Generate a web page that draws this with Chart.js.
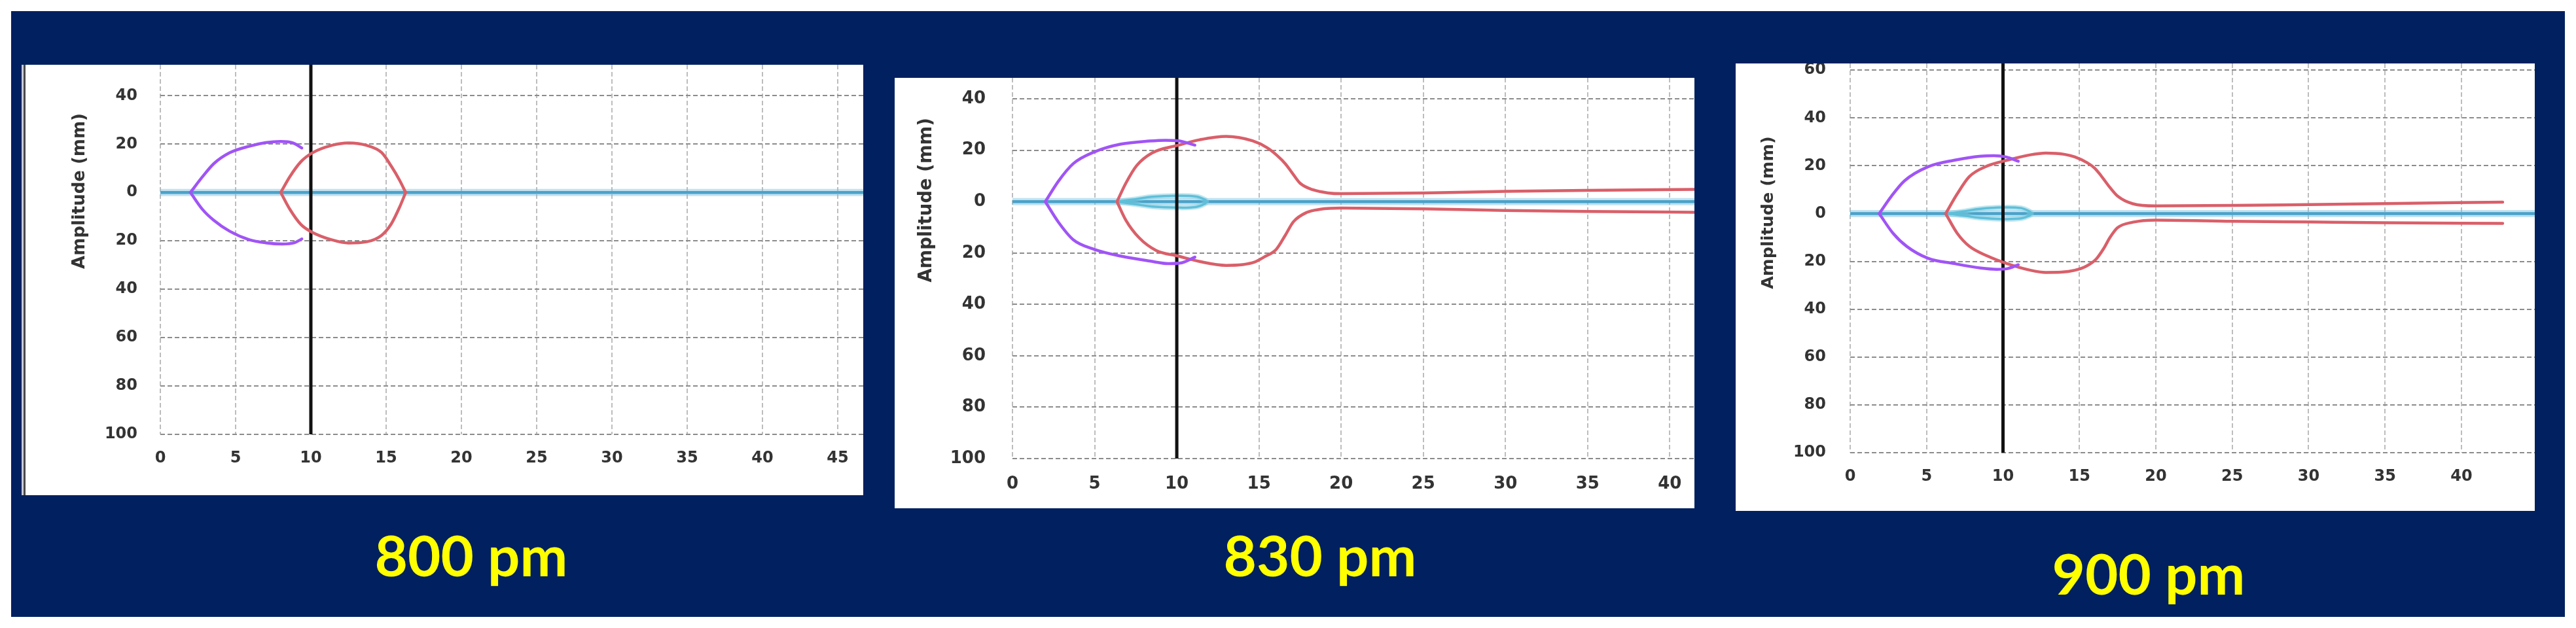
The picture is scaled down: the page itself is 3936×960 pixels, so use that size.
<!DOCTYPE html>
<html>
<head>
<meta charset="utf-8">
<script src="https://cdn.jsdelivr.net/npm/chart.js@4.4.1/dist/chart.umd.min.js"></script>
<style>
html,body{margin:0;padding:0;background:#ffffff;width:3936px;height:960px;overflow:hidden;}
#navy{position:absolute;left:17px;top:17px;width:3902px;height:926px;background:#002060;}
.panel{position:absolute;background:#ffffff;}
.panel canvas{position:absolute;left:0;top:0;}
.lbl{position:absolute;width:600px;text-align:center;font-family:Lato,"DejaVu Sans",sans-serif;font-weight:700;color:#ffff00;line-height:1.2;white-space:nowrap;}
#edge1{position:absolute;left:36px;top:99px;width:3px;height:658px;background:#4a4a4a;}
#edge1b{position:absolute;left:33px;top:99px;width:3px;height:658px;background:#c9cdd8;}
</style>
</head>
<body>
<div id="navy"></div>
<div class="panel" id="p1" style="left:33px;top:99px;width:1286px;height:658px"><canvas id="c1"></canvas></div>
<div class="panel" id="p2" style="left:1367px;top:119px;width:1222px;height:658px"><canvas id="c2"></canvas></div>
<div class="panel" id="p3" style="left:2652px;top:97px;width:1221px;height:684px"><canvas id="c3"></canvas></div>
<div id="edge1b"></div><div id="edge1"></div>
<div class="lbl" id="l1" style="left:420px;top:796px;font-size:87px"></div>
<div class="lbl" id="l2" style="left:1717px;top:796px;font-size:87px"></div>
<div class="lbl" id="l3" style="left:2983px;top:824px;font-size:87px"></div>
<script>
// ---------- labels / ticks ----------
const panelLabels = ['800 pm', '830 pm', '900 pm'];
const axisTitle = 'Amplitude (mm)';
const xTicks800 = [0, 5, 10, 15, 20, 25, 30, 35, 40, 45];
const xTicks830 = [0, 5, 10, 15, 20, 25, 30, 35, 40];
const xTicks900 = [0, 5, 10, 15, 20, 25, 30, 35, 40];
const yTicks = [-100, -80, -60, -40, -20, 0, 20, 40];
const yTickLabels = ['100', '80', '60', '40', '20', '0', '20', '40'];
const yTicks900 = [-100, -80, -60, -40, -20, 0, 20, 40, 60];
const yTickLabels900 = ['100', '80', '60', '40', '20', '0', '20', '40', '60'];
const markerX = 10;

// ---------- 800 pm ----------
const baseline800 = [[0, 0], [46.7, 0]];
const violetUpper800 = [[2.0,0],[2.8,6.5],[3.55,11.9],[4.6,16.4],[5.9,19.1],[7.0,20.6],[8.0,21.1],[8.8,20.5],[9.4,18.4]];
const violetLower800 = [[2.0,0],[2.8,-7.0],[3.55,-11.5],[4.6,-16.0],[5.9,-19.5],[7.0,-20.8],[8.1,-21.3],[8.9,-20.8],[9.4,-19.2]];
const redUpper800 = [[8.0,0],[8.6,6.5],[9.35,12.8],[10.1,16.4],[11.4,19.5],[12.5,20.5],[13.7,19.5],[14.7,16.5],[15.35,10.8],[15.9,5.0],[16.3,0]];
const redLower800 = [[8.0,0],[8.6,-6.9],[9.35,-13.3],[10.1,-16.5],[11.4,-19.6],[12.5,-20.9],[13.7,-20.4],[14.7,-17.7],[15.35,-12.9],[15.9,-6.0],[16.3,0]];

// ---------- 830 pm ----------
const baseline830 = [[0, 0], [41.5, 0]];
const violetUpper830 = [[2.0,0],[2.8,8.0],[3.7,14.8],[5.0,19.4],[6.6,22.4],[8.35,23.6],[9.3,23.9],[10.1,23.7],[11.1,22.0]];
const violetLower830 = [[2.0,0],[2.8,-8.0],[3.7,-14.8],[5.0,-18.6],[6.6,-21.2],[8.35,-23.1],[9.5,-24.1],[10.3,-23.8],[11.1,-21.6]];
const redUpper830 = [[6.36,0],[6.9,7.2],[7.55,14.0],[8.5,19.0],[10.1,22.0],[11.4,24.1],[13.0,25.4],[14.6,23.7],[15.5,21.0],[16.1,18.0],[16.6,14.8],[17.0,11.4],[17.5,7.2],[18.3,4.6],[19.2,3.4],[20,3.1],[25,3.4],[30,4.0],[35,4.4],[41.5,4.8]];
const redLower830 = [[6.36,0],[6.9,-7.2],[7.7,-14.0],[8.75,-19.0],[10.1,-21.2],[11.4,-23.3],[13.0,-24.8],[14.0,-24.5],[14.7,-23.6],[15.3,-21.6],[16.06,-18.5],[16.6,-13.1],[17.1,-7.8],[17.9,-4.2],[18.7,-3.0],[20,-2.5],[25,-2.8],[30,-3.4],[35,-3.8],[41.5,-4.1]];
const cyanLoop830 = [[6.4,0],[7.5,1.0],[8.5,1.9],[10,2.3],[11.2,2.0],[11.7,0.8],[11.8,0],[11.7,-0.8],[11.2,-2.0],[10,-2.3],[8.5,-1.9],[7.5,-1.0],[6.4,0]];

// ---------- 900 pm ----------
const baseline900 = [[0, 0], [44.8, 0]];
const violetUpper900 = [[1.9,0],[2.7,7.3],[3.55,13.7],[5.1,19.6],[6.8,22.3],[8.55,24.0],[9.4,24.2],[10.2,23.7],[11.0,21.9]];
const violetLower900 = [[1.9,0],[2.8,-8.2],[3.7,-13.7],[5.1,-18.7],[6.8,-20.9],[8.55,-22.8],[9.6,-23.3],[10.3,-23.0],[11.0,-21.4]];
const redUpper900 = [[6.25,0],[7.0,8.2],[7.8,15.5],[9.0,20.0],[10.25,22.3],[11.8,24.6],[12.8,25.3],[14.0,24.8],[14.7,23.7],[15.5,21.3],[16.0,19.0],[16.4,16.0],[17.0,10.9],[17.5,7.3],[18.5,4.1],[20,3.2],[25,3.4],[30,3.8],[35,4.2],[42.7,4.8]];
const redLower900 = [[6.25,0],[7.0,-8.2],[7.8,-13.7],[9.0,-17.8],[10.25,-20.9],[11.8,-23.7],[12.8,-24.6],[13.8,-24.5],[14.7,-23.7],[15.5,-21.8],[16.1,-19.0],[16.6,-14.5],[17.0,-10.0],[17.5,-5.9],[18.5,-3.6],[20,-2.7],[25,-3.2],[30,-3.5],[35,-3.8],[42.7,-4.1]];
const cyanLoop900 = [[6.5,0],[7.5,1.0],[8.5,2.0],[10,2.6],[11.2,2.3],[11.7,1.0],[11.85,0],[11.7,-0.9],[11.2,-2.0],[10,-2.3],[8.5,-1.8],[7.5,-0.9],[6.5,0]];

// ---------- drawing ----------
const toXY = arr => arr.map(p => ({x: p[0], y: p[1]}));

const yTitlePlugin = {
  id: 'yTitle',
  afterDraw(chart, args, opts) {
    const ctx = chart.ctx;
    ctx.save();
    ctx.translate(opts.x, opts.y);
    ctx.rotate(-Math.PI / 2);
    ctx.font = opts.font;
    ctx.fillStyle = '#333333';
    ctx.textAlign = 'center';
    ctx.textBaseline = 'middle';
    ctx.fillText(opts.text, 0, 0);
    ctx.restore();
  }
};

function buildChart(p) {
  const ds = [];
  const add = (data, color, width, order, mode) => ds.push({
    data: toXY(data), showLine: true, borderColor: color, backgroundColor: color,
    borderWidth: width, pointRadius: 0, pointHoverRadius: 0,
    tension: mode === 'loop' ? 0.4 : 0,
    cubicInterpolationMode: mode === 'smooth' ? 'monotone' : 'default',
    order: order, fill: false, borderCapStyle: 'round', borderJoinStyle: 'round'
  });
  add(p.baseline, 'rgba(120,190,225,0.45)', 11, 9, 'straight');
  add(p.baseline, '#4aa2c9', 4.5, 8, 'straight');
  if (p.loop) { add(p.loop, 'rgba(130,205,225,0.5)', 8, 7.5, 'loop'); add(p.loop, '#5fbfd8', 3.5, 7, 'loop'); }
  add([[markerX, p.yMin], [markerX, p.yMax]], '#111111', 5, 6, 'straight');
  add(p.redUpper, '#d95f69', 4.5, 5, 'smooth');
  add(p.redLower, '#d95f69', 4.5, 4, 'smooth');
  add(p.violetUpper, '#a054f6', 4.5, 3, 'smooth');
  add(p.violetLower, '#a054f6', 4.5, 2, 'smooth');

  const tickFont = {family: 'DejaVu Sans', size: p.tickSize, weight: 'bold'};
  new Chart(document.getElementById(p.canvas), {
    type: 'scatter',
    data: {datasets: ds},
    plugins: [yTitlePlugin],
    options: {
      responsive: true, maintainAspectRatio: false, animation: false, devicePixelRatio: 1,
      events: [],
      layout: {padding: 0},
      plugins: {
        legend: {display: false}, tooltip: {enabled: false},
        yTitle: {text: axisTitle, x: p.titleX, y: p.titleY, font: 'bold ' + p.titleSize + 'px "DejaVu Sans"'}
      },
      scales: {
        x: {
          type: 'linear', min: 0, max: p.xMax,
          afterBuildTicks: s => { s.ticks = p.xTicks.map(v => ({value: v})); },
          afterFit: s => { s.height = p.xAxisHeight; s.paddingLeft = 0; s.paddingRight = 0; },
          ticks: {font: tickFont, color: '#333333', padding: p.xPad, maxRotation: 0, autoSkip: false, callback: v => String(v)},
          grid: {color: '#bdbdbd', lineWidth: 2, drawTicks: false},
          border: {display: false, dash: [7, 4]}
        },
        y: {
          type: 'linear', min: p.yMin, max: p.yMax,
          afterBuildTicks: s => { s.ticks = p.yTicks.map(v => ({value: v})); },
          afterFit: s => { s.width = p.yAxisWidth; s.paddingTop = 0; s.paddingBottom = 0; },
          ticks: {font: tickFont, color: '#333333', padding: p.yPad, autoSkip: false, callback: (v, i) => p.yLabels[i]},
          grid: {color: '#8c8c8c', lineWidth: 2, drawTicks: false},
          border: {display: false, dash: [7, 4]}
        }
      }
    }
  });
}

buildChart({canvas: 'c1', xMax: 46.7, yMin: -100, yMax: 52.8, xTicks: xTicks800, yTicks: yTicks, yLabels: yTickLabels,
  yAxisWidth: 212, xAxisHeight: 93, xPad: 22, yPad: 35, tickSize: 24, titleSize: 26, titleX: 89, titleY: 193,
  baseline: baseline800, violetUpper: violetUpper800, violetLower: violetLower800, redUpper: redUpper800, redLower: redLower800});
buildChart({canvas: 'c2', xMax: 41.5, yMin: -100, yMax: 48.2, xTicks: xTicks830, yTicks: yTicks, yLabels: yTickLabels,
  yAxisWidth: 180, xAxisHeight: 76, xPad: 24, yPad: 41, tickSize: 26, titleSize: 27.5, titleX: 49, titleY: 187,
  baseline: baseline830, violetUpper: violetUpper830, violetLower: violetLower830, redUpper: redUpper830, redLower: redLower830, loop: cyanLoop830});
buildChart({canvas: 'c3', xMax: 44.8, yMin: -100, yMax: 62.8, xTicks: xTicks900, yTicks: yTicks900, yLabels: yTickLabels900,
  yAxisWidth: 175, xAxisHeight: 89, xPad: 22, yPad: 37, tickSize: 24, titleSize: 25.5, titleX: 50, titleY: 228,
  baseline: baseline900, violetUpper: violetUpper900, violetLower: violetLower900, redUpper: redUpper900, redLower: redLower900, loop: cyanLoop900});

['l1', 'l2', 'l3'].forEach((id, i) => { document.getElementById(id).textContent = panelLabels[i]; });
</script>
</body>
</html>
